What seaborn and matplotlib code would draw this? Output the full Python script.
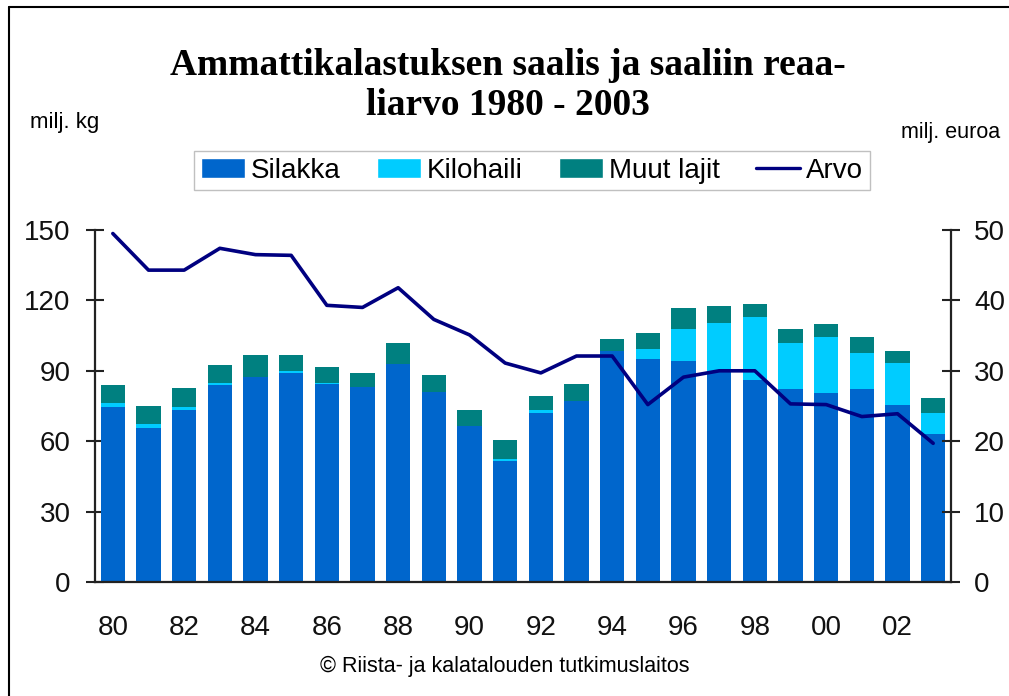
import numpy as np
import pandas as pd
import seaborn as sns
import matplotlib.pyplot as plt
from matplotlib.patches import Patch
from matplotlib.lines import Line2D

# Data
years = [1980, 1981, 1982, 1983, 1984, 1985, 1986, 1987, 1988, 1989, 1990, 1991,
         1992, 1993, 1994, 1995, 1996, 1997, 1998, 1999, 2000, 2001, 2002, 2003]
silakka = [74.6, 65.5, 73.1, 84.0, 87.4, 89.1, 84.2, 83.2, 93.1, 80.8, 66.4, 51.5,
           72.2, 77.3, 98.4, 95.1, 94.1, 89.6, 85.9, 82.3, 80.6, 82.3, 75.6, 63.1]
kilohaili = [1.7, 1.8, 1.5, 0.9, 0.0, 0.9, 0.8, 0.0, 0.0, 0.0, 0.0, 0.8,
             0.9, 0.0, 0.0, 4.1, 13.5, 20.6, 26.9, 19.5, 23.8, 15.2, 17.7, 9.1]
muut = [7.8, 7.6, 7.9, 7.7, 9.3, 6.7, 6.7, 5.9, 8.6, 7.5, 6.7, 8.3,
        6.0, 6.9, 5.1, 6.7, 9.3, 7.5, 5.8, 5.8, 5.7, 6.7, 5.1, 6.0]
arvo = [49.5, 44.3, 44.3, 47.4, 46.5, 46.4, 39.3, 39.0, 41.8, 37.3, 35.1, 31.1,
        29.7, 32.1, 32.1, 25.2, 29.1, 30.0, 30.0, 25.3, 25.2, 23.5, 23.9, 19.7]
x_labels = ["80", "82", "84", "86", "88", "90", "92", "94", "96", "98", "00", "02"]
left_ticks = [0, 30, 60, 90, 120, 150]
right_ticks = [0, 10, 20, 30, 40, 50]

series_names = ["Silakka", "Kilohaili", "Muut lajit", "Arvo"]
c_silakka = "#0066CC"
c_kilo = "#00CCFF"
c_muut = "#008080"
c_arvo = "#000080"

sns.set_style("white")
plt.rcParams["font.family"] = ["Liberation Sans", "DejaVu Sans"]
plt.rcParams["text.color"] = "black"
plt.rcParams["xtick.color"] = "black"
plt.rcParams["ytick.color"] = "black"

df = pd.DataFrame({"year": [str(y) for y in years],
                   "silakka": silakka, "kilohaili": kilohaili, "muut": muut, "arvo": arvo})
df["s_k"] = df["silakka"] + df["kilohaili"]
df["total"] = df["s_k"] + df["muut"]

fig = plt.figure(figsize=(10.09, 6.96), dpi=100)
ax = fig.add_axes([95 / 1009, 1 - 582 / 696, (951 - 95) / 1009, (582 - 230) / 696])

# stacked bars drawn as overlapping cumulative bars
bw = 0.68
sns.barplot(data=df, x="year", y="total", color=c_muut, saturation=1, width=bw, linewidth=0, ax=ax)
sns.barplot(data=df, x="year", y="s_k", color=c_kilo, saturation=1, width=bw, linewidth=0, ax=ax)
sns.barplot(data=df, x="year", y="silakka", color=c_silakka, saturation=1, width=bw, linewidth=0, ax=ax)

ax2 = ax.twinx()
pos = np.arange(len(years))
sns.lineplot(x=pos, y=df["arvo"].values, color=c_arvo, linewidth=2.6, ax=ax2)

ax.set_xlim(-0.5, len(years) - 0.5)
ax.set_ylim(0, 150)
ax2.set_ylim(0, 50)
ax.set_xlabel("")
ax.set_ylabel("")
ax2.set_xlabel("")
ax2.set_ylabel("")

# ticks
ax.set_xticks(np.arange(0, len(years), 2))
ax.set_xticklabels(x_labels)
ax.set_xticks(np.arange(-0.5, len(years), 1), minor=True)
ax.tick_params(axis="x", which="major", length=0, pad=24, labelsize=20, labelcolor="#111111")
ax.tick_params(axis="x", which="minor", direction="inout", length=14, width=1.5, color="#222222")
ax.set_yticks(left_ticks)
ax.tick_params(axis="y", direction="inout", length=13, width=1.5, pad=11, labelsize=20,
               color="#222222", labelcolor="#111111", left=True)
ax2.set_yticks(right_ticks)
ax2.tick_params(axis="y", direction="inout", length=13, width=1.5, pad=10, labelsize=20,
                color="#222222", labelcolor="#111111", right=True)

for a in (ax, ax2):
    for s in a.spines.values():
        s.set_visible(False)
ax.spines["left"].set_visible(True)
ax.spines["bottom"].set_visible(True)
ax2.spines["right"].set_visible(True)
for s in (ax.spines["left"], ax.spines["bottom"], ax2.spines["right"]):
    s.set_color("#222222")
    s.set_linewidth(1.6)

# legend
handles = [Patch(facecolor=c_silakka), Patch(facecolor=c_kilo), Patch(facecolor=c_muut),
           Line2D([], [], color=c_arvo, linewidth=2.4)]
fig.legend(handles, series_names, ncol=4, loc="center", bbox_to_anchor=(0.527, 0.755),
           fontsize=20, frameon=True, fancybox=False, edgecolor="#c0c0c0",
           handlelength=1.6, handleheight=0.7, handletextpad=0.2, columnspacing=1.3,
           borderpad=0.25, framealpha=1)

# title and annotations
serif = ["Liberation Serif", "DejaVu Serif"]
fig.text(0.503, 1 - 75 / 696, "Ammattikalastuksen saalis ja saaliin reaa-", ha="center",
         va="baseline", fontsize=27, fontweight="bold", family=serif, color="black")
fig.text(0.503, 1 - 115 / 696, "liarvo 1980 - 2003", ha="center",
         va="baseline", fontsize=27, fontweight="bold", family=serif, color="black")
fig.text(30 / 1009, 1 - 128 / 696, "milj. kg", ha="left", va="baseline", fontsize=16)
fig.text(1000 / 1009, 1 - 138 / 696, "milj. euroa", ha="right", va="baseline", fontsize=15.5)
fig.text(0.5, 1 - 672 / 696, "\u00a9 Riista- ja kalatalouden tutkimuslaitos", ha="center",
         va="baseline", fontsize=15.5)

# outer frame (top and left edges)
fig.add_artist(Line2D([9 / 1009, 9 / 1009], [0, 1 - 7 / 696], color="black", linewidth=1.5))
fig.add_artist(Line2D([9 / 1009, 1], [1 - 7 / 696, 1 - 7 / 696], color="black", linewidth=1.5))

fig.savefig("out.png", dpi=100)
